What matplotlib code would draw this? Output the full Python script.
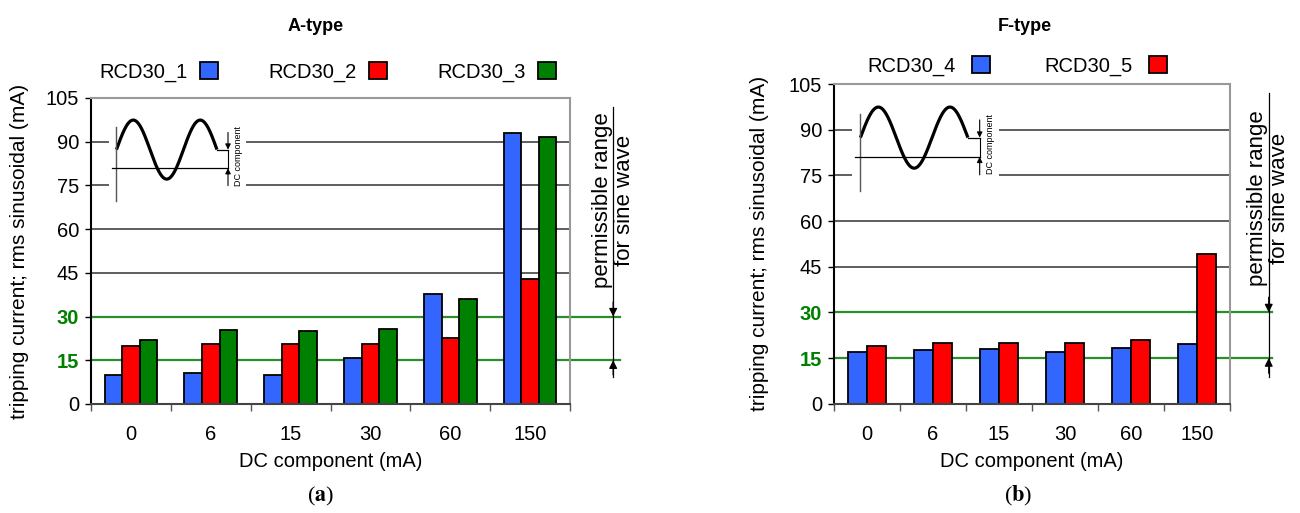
import numpy as np
import matplotlib
matplotlib.use('Agg')
import matplotlib.pyplot as plt
import matplotlib.transforms as mtransforms
from matplotlib.patches import Patch

plt.rcParams['font.family'] = ['Liberation Sans', 'DejaVu Sans']
plt.rcParams['mathtext.fontset'] = 'stix'

# data
dc_labels = ['0', '6', '15', '30', '60', '150']
rcd30_1 = [10.0, 10.5, 10.0, 15.7, 37.9, 92.9]
rcd30_2 = [20.0, 20.6, 20.6, 20.6, 22.8, 42.9]
rcd30_3 = [22.0, 25.3, 25.2, 25.8, 35.9, 91.6]
rcd30_4 = [17.0, 17.6, 17.9, 17.1, 18.3, 19.5]
rcd30_5 = [19.0, 19.9, 20.1, 20.1, 21.0, 49.1]
y_ticks = [0, 15, 30, 45, 60, 75, 90, 105]
limit_lines = [15, 30]

BLUE = '#3366ff'
RED = '#ff0000'
GREEN = '#008000'
LINE_GREEN = '#2a8f2a'
FS = 14.5


def setup_axes(ax, ylabel_x):
    x = np.arange(len(dc_labels))
    ax.set_xlim(-0.5, len(dc_labels) - 0.5)
    ax.set_ylim(0, 105)
    ax.set_yticks(y_ticks)
    ax.set_yticklabels([str(v) for v in y_ticks], fontsize=FS)
    ax.tick_params(axis='y', length=4, width=1, pad=4.5, color='black')
    # category labels in the middle, tick marks between groups
    ax.set_xticks(np.arange(-0.5, len(dc_labels)), minor=False)
    ax.set_xticklabels([])
    ax.set_xticks(x, minor=True)
    ax.set_xticklabels(dc_labels, minor=True, fontsize=FS)
    ax.tick_params(axis='x', which='major', length=5, width=1, color='#555555', direction='out')
    ax.tick_params(axis='x', which='minor', length=0, pad=15)
    ax.set_xlabel('DC component (mA)', fontsize=FS, labelpad=6)
    ax.set_ylabel('tripping current; rms sinusoidal (mA)', fontsize=15)
    ax.yaxis.set_label_coords(ylabel_x, 0.5)
    for lab in ax.get_yticklabels():
        if lab.get_text() in [str(v) for v in limit_lines]:
            lab.set_color(GREEN)
            lab.set_fontweight('bold')
    ax.spines['left'].set_color('black')
    ax.spines['bottom'].set_color('#444444')
    for s in ['top', 'right']:
        ax.spines[s].set_color('#999999')
    for s in ax.spines.values():
        s.set_linewidth(1.5)
    # grid lines
    for v in y_ticks:
        if v not in limit_lines and 0 < v < 105:
            ax.axhline(v, color='#333333', lw=1.1, zorder=0.5)
    blend = mtransforms.blended_transform_factory(ax.transAxes, ax.transData)
    for v in limit_lines:
        ax.plot([0, 1.105], [v, v], transform=blend, clip_on=False,
                color=LINE_GREEN, lw=1.6, zorder=0.6)
    return x


def add_range(ax, xf, ytop, ybot, ytext):
    blend = mtransforms.blended_transform_factory(ax.transAxes, ax.transData)
    ax.plot([xf, xf], [ytop, ybot], transform=blend, clip_on=False, color='black', lw=0.9)
    ap = dict(arrowstyle='-|>', color='black', lw=0.9, mutation_scale=12, shrinkA=0, shrinkB=0)
    ax.annotate('', xy=(xf, limit_lines[1]), xytext=(xf, limit_lines[1] + 5),
                xycoords=blend, textcoords=blend, arrowprops=ap, annotation_clip=False)
    ax.annotate('', xy=(xf, limit_lines[0]), xytext=(xf, limit_lines[0] - 5),
                xycoords=blend, textcoords=blend, arrowprops=ap, annotation_clip=False)
    ax.text(xf, ytext, 'permissible range\nfor sine wave', transform=blend, rotation=90,
            ha='center', va='center', fontsize=16, linespacing=1.05, clip_on=False)


def draw_inset(ax, rect):
    ins = ax.inset_axes(rect)
    ins.set_facecolor('white')
    ins.set_xticks([])
    ins.set_yticks([])
    for s in ins.spines.values():
        s.set_visible(False)
    ins.set_xlim(-0.7, 12.15)
    ins.set_ylim(-1.88, 1.51)
    t = np.linspace(0, 3 * np.pi, 300)
    ins.plot(t, np.sin(t), color='black', lw=2.3, solid_capstyle='butt')
    ins.plot([0, 0], [0.77, -1.75], color='#555555', lw=1)
    ins.plot([-0.46, 10.46], [-0.63, -0.63], color='black', lw=0.9)
    ins.plot([3 * np.pi, 10.46], [0, 0], color='black', lw=0.9)
    ins.plot([10.46, 10.46], [0, -0.63], color='black', lw=0.8)
    ap = dict(arrowstyle='-|>', color='black', lw=0.8, mutation_scale=8, shrinkA=0, shrinkB=0)
    ins.annotate('', xy=(10.46, 0), xytext=(10.46, 0.58), arrowprops=ap)
    ins.annotate('', xy=(10.46, -0.63), xytext=(10.46, -1.22), arrowprops=ap)
    ins.text(11.4, -0.22, 'DC component', rotation=90, fontsize=6.5, ha='center', va='center')


fig = plt.figure(figsize=(13, 5.13), dpi=100)
axA = fig.add_axes([0.070, 0.2125, 0.3685, 0.5965])
axF = fig.add_axes([0.6415, 0.213, 0.3046, 0.623])

# A-type
x = setup_axes(axA, -0.13)
w = 0.22
kw = dict(edgecolor='black', linewidth=1.3, zorder=2)
axA.bar(x - w, rcd30_1, w, color=BLUE, **kw)
axA.bar(x, rcd30_2, w, color=RED, **kw)
axA.bar(x + w, rcd30_3, w, color=GREEN, **kw)
draw_inset(axA, [0.0376, 0.650, 0.286, 0.327])
add_range(axA, 1.09, 101.9, 9.3, 70)

# F-type
x = setup_axes(axF, -0.165)
w = 0.29
axF.bar(x - w / 2, rcd30_4, w, color=BLUE, **kw)
axF.bar(x + w / 2, rcd30_5, w, color=RED, **kw)
draw_inset(axF, [0.0467, 0.653, 0.37, 0.324])
add_range(axF, 1.098, 102, 8.8, 67.5)

# titles, legends, captions
fig.text(316 / 1300, 1 - 27 / 513, 'A-type', ha='center', va='center', fontsize=13, fontweight='bold')
fig.text(1025 / 1300, 1 - 27 / 513, 'F-type', ha='center', va='center', fontsize=13, fontweight='bold')

legA = [Patch(facecolor=c, edgecolor='black', linewidth=1.3, label=l)
        for c, l in zip([BLUE, RED, GREEN], ['RCD30_1', 'RCD30_2', 'RCD30_3'])]
fig.legend(handles=legA, loc='center', bbox_to_anchor=(327.7 / 1300, 1 - 72 / 513), ncol=3,
           markerfirst=False, frameon=False, fontsize=FS, handlelength=0.9, handleheight=0.9,
           handletextpad=0.6, columnspacing=2.5, borderpad=0)
legF = [Patch(facecolor=c, edgecolor='black', linewidth=1.3, label=l)
        for c, l in zip([BLUE, RED], ['RCD30_4', 'RCD30_5'])]
fig.legend(handles=legF, loc='center', bbox_to_anchor=(1017 / 1300, 1 - 66 / 513), ncol=2,
           markerfirst=False, frameon=False, fontsize=FS, handlelength=0.9, handleheight=0.9,
           handletextpad=0.8, columnspacing=2.7, borderpad=0)

fig.text(320.5 / 1300, 1 - 496 / 513, r'($\mathbf{a}$)', ha='center', va='center', fontsize=16,
         family=['Liberation Serif', 'DejaVu Serif'])
fig.text(1018 / 1300, 1 - 496 / 513, r'($\mathbf{b}$)', ha='center', va='center', fontsize=16,
         family=['Liberation Serif', 'DejaVu Serif'])

fig.savefig('out.png', dpi=100)
